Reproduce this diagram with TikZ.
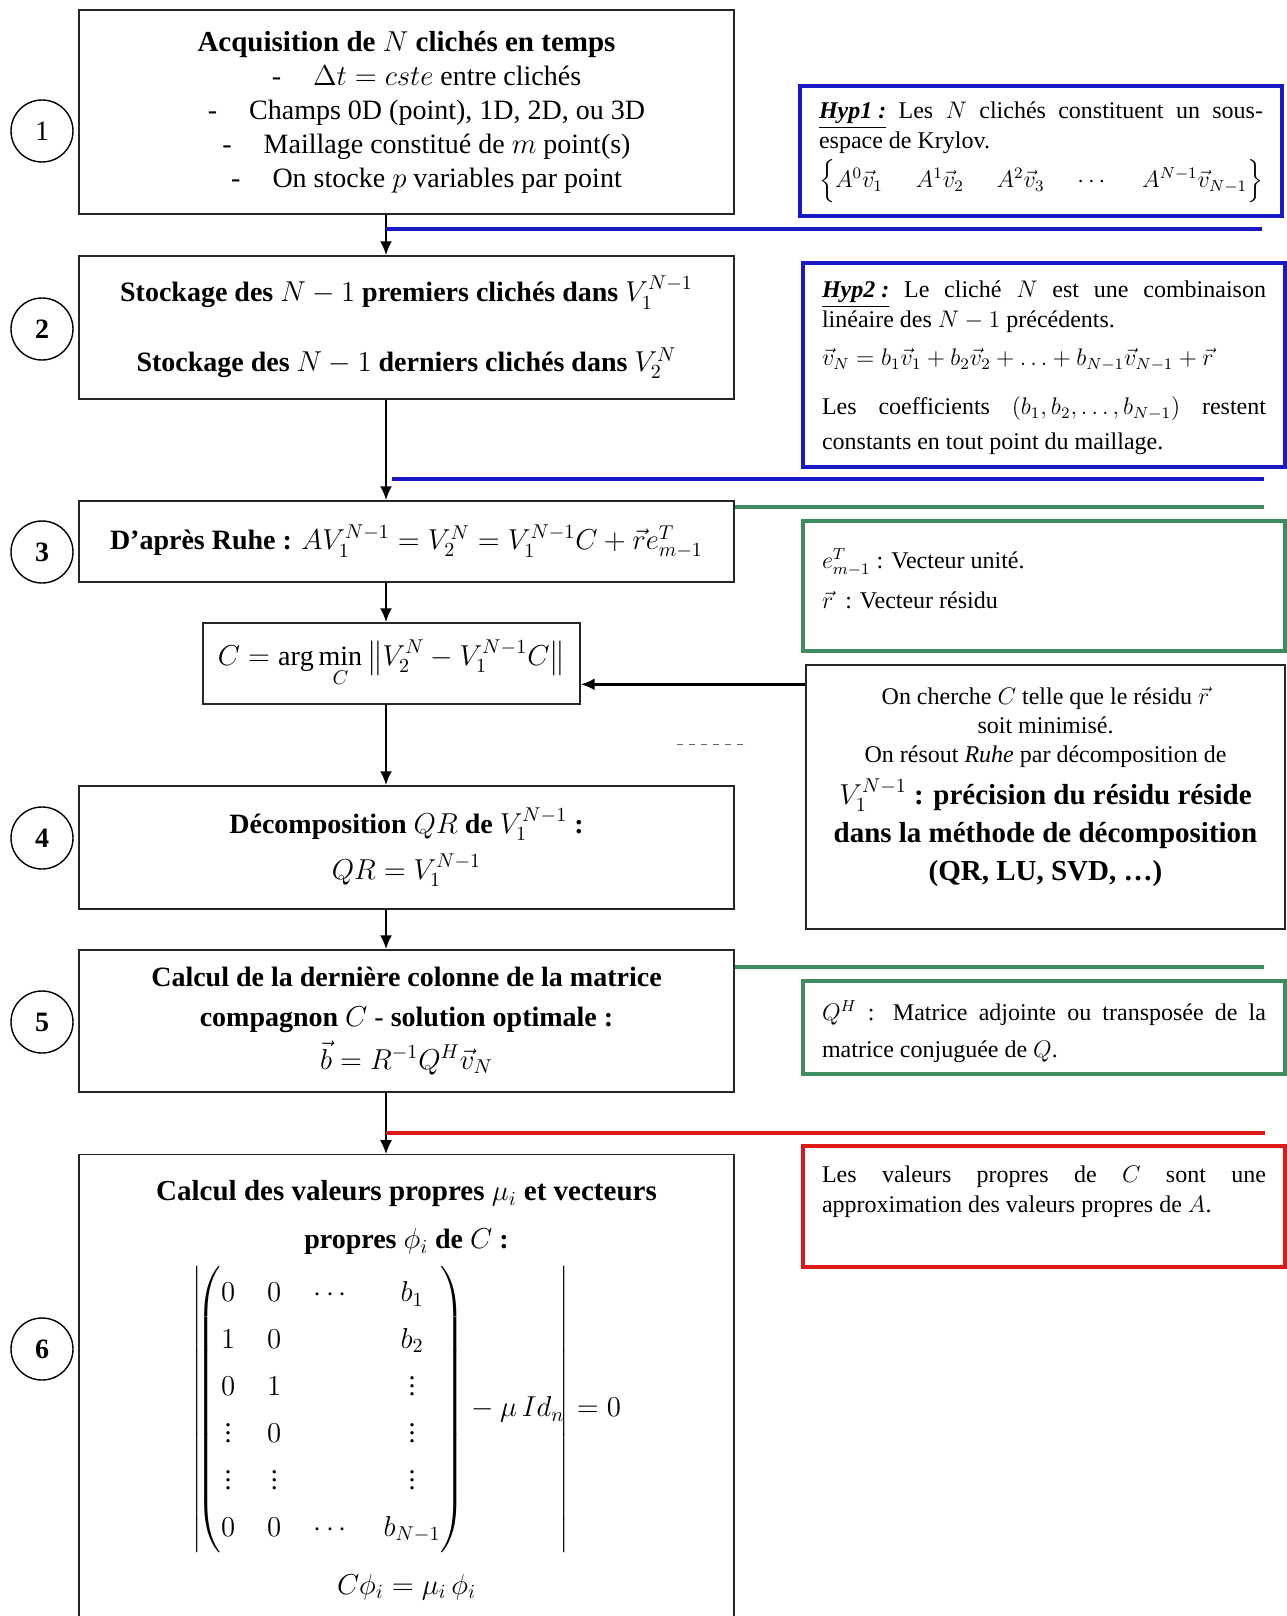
\documentclass[tikz,border=0pt]{standalone}
\usepackage{amsmath,amssymb}
\usepackage{fontspec}
\setmainfont{Liberation Serif}
\usetikzlibrary{arrows.meta}

\definecolor{hypblue}{RGB}{25,25,200}
\definecolor{hypgreen}{RGB}{60,140,95}
\definecolor{hypred}{RGB}{220,25,25}

% texte d'une note, colle en haut du cadre
\newcommand{\bloctxt}[3]{\parbox[c][#1][t]{222pt}{\vspace*{#2}#3}}

\tikzset{
  etape/.style={draw=black!85, line width=0.7pt, minimum width=327.5pt, align=center, inner sep=0pt, font=\fontsize{14}{17}\selectfont},
  numero/.style={draw, circle, line width=0.7pt, minimum size=31pt, inner sep=0pt, font=\fontsize{14}{16}\selectfont},
  hypo/.style={draw=#1, line width=1.8pt, inner sep=0pt, minimum width=241pt, font=\fontsize{12}{15}\selectfont},
  fleche/.style={line width=1.2pt, -{Latex[length=7pt,width=6pt]}},
  trait/.style={line width=1.8pt, draw=#1},
}

\begin{document}
\begin{tikzpicture}[x=0.5pt,y=-0.5pt]
\useasboundingbox (0,0) rectangle (1286,1616);
\coordinate (ax) at (386,0);

% etapes
\node[etape, minimum height=102pt] (e1) at (406.5,112) {%
  {\fontsize{14.5}{17}\selectfont\textbf{Acquisition de $N$ clichés en temps}}\\
  \hspace*{20pt}-\hspace{16pt}$\Delta t = cste$ entre clichés\\
  \hspace*{20pt}-\hspace{16pt}Champs 0D (point), 1D, 2D, ou 3D\\
  \hspace*{20pt}-\hspace{16pt}Maillage constitué de $m$ point(s)\\
  \hspace*{20pt}-\hspace{16pt}On stocke $p$ variables par point};
\node[etape, minimum height=71.5pt] (e2) at (406.5,327.5) {%
  \textbf{Stockage des $N-1$ premiers clichés dans} $V_1^{N-1}$\\[18pt]
  \textbf{Stockage des $N-1$ derniers clichés dans} $V_2^{N}$};
\node[etape, minimum height=40.5pt] (e3) at (406.5,541.5) {%
  \textbf{D’après Ruhe :} $AV_1^{N-1} = V_2^N = V_1^{N-1}C + \vec r e_{m-1}^T$};
\node[etape, minimum width=188.5pt, minimum height=40.5pt] (cmin) at (391.5,663.5) {%
  $\displaystyle C = \arg\min_C \left\| V_2^N - V_1^{N-1} C \right\|$};
\node[etape, minimum height=61.5pt] (e4) at (406.5,847.5) {%
  \textbf{Décomposition} $QR$ \textbf{de} $V_1^{N-1}$ \textbf{:}\\[6pt]
  $QR = V_1^{N-1}$};
\node[etape, minimum height=71pt] (e5) at (406.5,1021) {%
  \textbf{Calcul de la dernière colonne de la matrice}\\[3pt]
  \textbf{compagnon} $C$ - \textbf{solution optimale :}\\[3pt]
  $\vec b = R^{-1} Q^H \vec v_N$};
\node[etape, anchor=north, inner ysep=13pt] (e6) at (406.5,1154) {%
  {\fontsize{14.5}{17}\selectfont\textbf{Calcul des valeurs propres} $\mu_i$ \textbf{et vecteurs}}\\[7pt]
  \textbf{propres} $\phi_i$ \textbf{de} $C$ \textbf{:}\\[5pt]
  {\renewcommand{\arraystretch}{1.38}\setlength{\arraycolsep}{8pt}%
  $\displaystyle \left|\! \begin{pmatrix}
    0 & 0 & \cdots & b_1\\
    1 & 0 & & b_2\\
    0 & 1 & & \vdots\\
    \vdots & 0 & & \vdots\\
    \vdots & \vdots & & \vdots\\
    0 & 0 & \cdots & b_{N-1}
  \end{pmatrix} - \mu\, Id_n \!\right| = 0$}\\[10pt]
  $C\phi_i = \mu_i\,\phi_i$\rule[-40pt]{0pt}{1pt}};

% numeros
\node[numero] (n1) at (42,131) {1};
\node[numero] (n2) at (42,329) {\textbf{2}};
\node[numero] (n3) at (42,552) {\textbf{3}};
\node[numero] (n4) at (42,838) {\textbf{4}};
\node[numero] (n5) at (42,1022) {\textbf{5}};
\node[numero] (n6) at (42,1349) {\textbf{6}};

% notes a droite
\node[hypo=hypblue] (hyp1) at (1041,151) {\bloctxt{65pt}{8pt}{%
  \underline{\textbf{\textit{Hyp1 :}}} Les $N$ clichés constituent un sous-\linebreak espace de Krylov.\\[2pt]
  $\Big\{A^0\vec v_1$\hfill$A^1\vec v_2$\hfill$A^2\vec v_3$\hfill$\cdots$\hfill$A^{N-1}\vec v_{N-1}\Big\}$}};
\node[hypo=hypblue] (hyp2) at (1044,365) {\bloctxt{102pt}{9pt}{%
  \underline{\textbf{\textit{Hyp2 :}}} Le cliché $N$ est une combinaison\linebreak linéaire des $N-1$ précédents.\par\vspace{4pt}
  $\vec v_N = b_1\vec v_1 + b_2\vec v_2 + \ldots + b_{N-1}\vec v_{N-1} + \vec r$\par\vspace{7pt}
  {\baselineskip=17.5pt Les coefficients $(b_1, b_2, \ldots, b_{N-1})$ restent\linebreak constants en tout point du maillage.\par}}};
\node[hypo=hypgreen] (def1) at (1044,586) {\bloctxt{65pt}{14pt}{%
  $e_{m-1}^T$ : Vecteur unité.\\[5pt]
  $\vec r$ \ : Vecteur résidu}};
\node[draw=black!85, line width=0.7pt, inner sep=0pt, minimum width=239.5pt] (rem) at (1045.5,797) {\bloctxt{132pt}{11pt}{\centering
  \fontsize{12}{14.5}\selectfont
  On cherche $C$ telle que le résidu $\vec r$\\
  soit minimisé.\\
  On résout \textit{Ruhe} par décomposition de\\[2pt]
  {\fontsize{14.5}{19}\selectfont\bfseries $V_1^{N-1}$ : précision du résidu réside\\
  dans la méthode de décomposition\\
  (QR, LU, SVD, …)\par}}};
\node[hypo=hypgreen] (def2) at (1044,1027.5) {\bloctxt{46.5pt}{10pt}{%
  \baselineskip=18.5pt $Q^H$ : Matrice adjointe ou transposée de la\linebreak matrice conjuguée de $Q$.}};
\node[hypo=hypred] (rq) at (1044,1206.5) {\bloctxt{60.5pt}{10pt}{%
  Les valeurs propres de $C$ sont une\linebreak approximation des valeurs propres de $A$.}};

% enchainement
\draw[fleche] (e1.south -| ax) -- (e2.north -| ax);
\draw[fleche] (e2.south -| ax) -- (e3.north -| ax);
\draw[fleche] (e3.south -| ax) -- (cmin.north -| ax);
\draw[fleche] (cmin.south -| ax) -- (e4.north -| ax);
\draw[fleche] (e4.south -| ax) -- (e5.north -| ax);
\draw[line width=0.6pt, -{Latex[length=7pt,width=6pt]}] (e5.south -| ax) -- (e6.north -| ax);
\draw[fleche] ([yshift=-10pt]rem.north west) -- ([yshift=-10pt]rem.north west -| cmin.east);

% traits de couleur
\coordinate (b1a) at (386,229);  \coordinate (b1b) at (1262,229);
\coordinate (b2a) at (392,479);  \coordinate (b2b) at (1264,479);
\coordinate (g1b) at (1264,507);
\coordinate (g2b) at (1264,967);
\coordinate (r1a) at (386,1133); \coordinate (r1b) at (1265,1133);
\draw[trait=hypblue] (b1a) -- (b1b);
\draw[trait=hypblue] (b2a) -- (b2b);
\draw[trait=hypgreen] (e3.east |- g1b) -- (g1b);
\draw[trait=hypgreen] (e5.east |- g2b) -- (g2b);
\draw[trait=hypred] (r1a) -- (r1b);
\coordinate (pa) at (677,744); \coordinate (pb) at (749,744);
\draw[dashed, black!60, line width=0.5pt] (pa) -- (pb);
\end{tikzpicture}
\end{document}
